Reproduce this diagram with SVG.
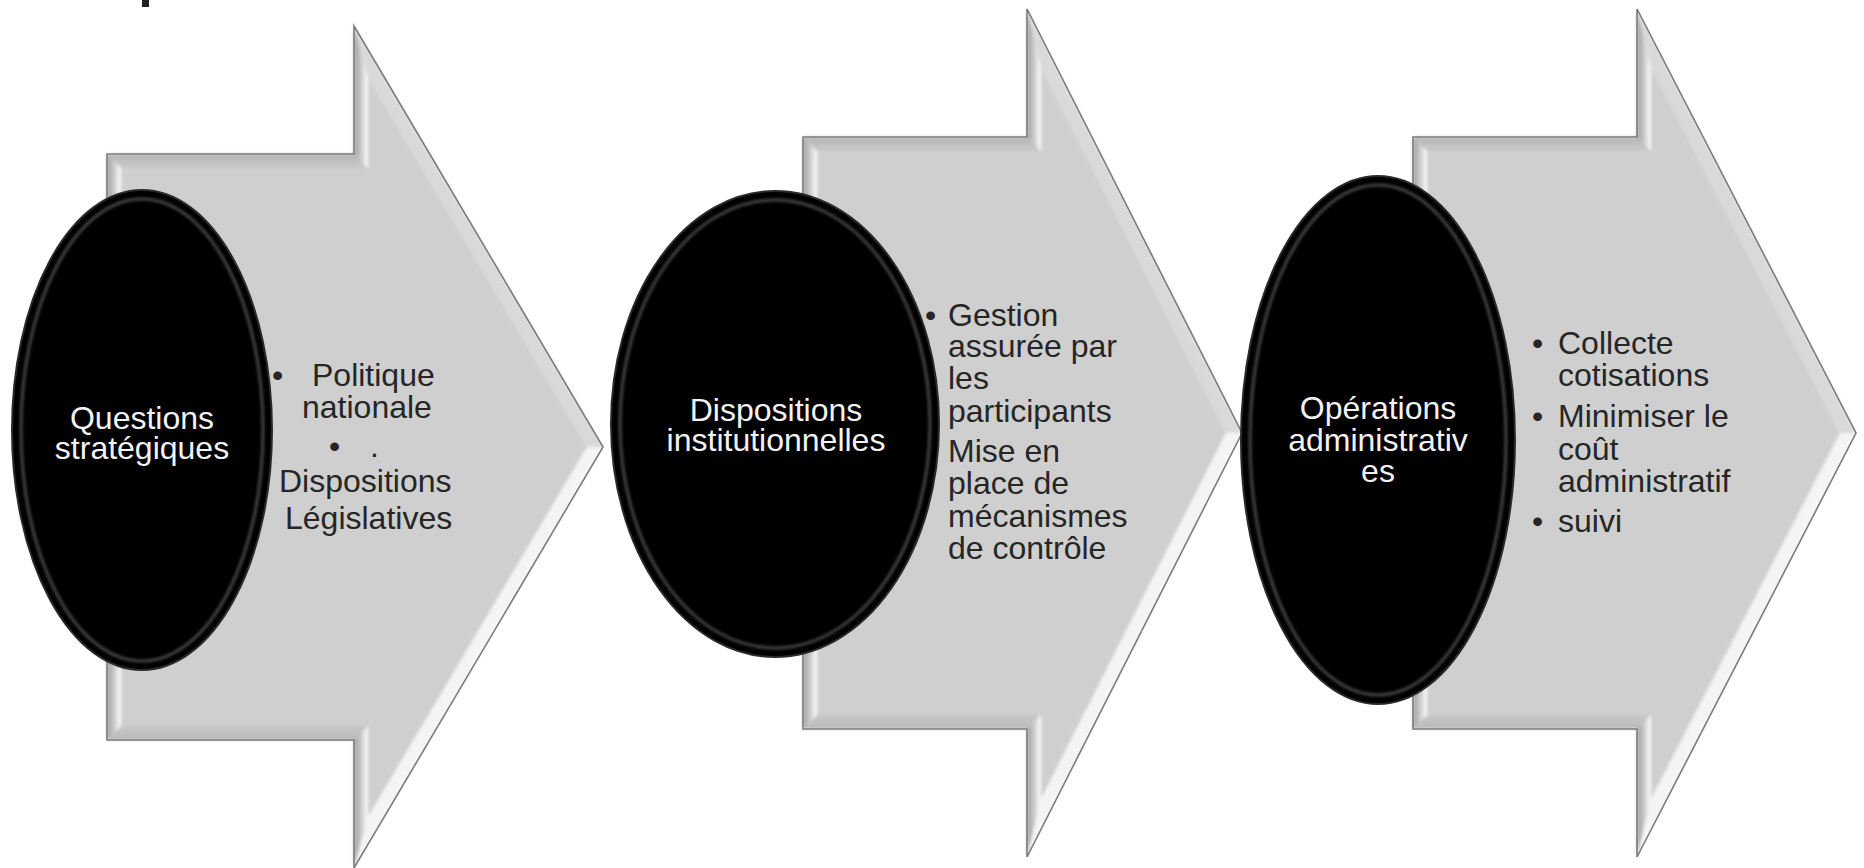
<svg xmlns="http://www.w3.org/2000/svg" width="1864" height="868" viewBox="0 0 1864 868">
  <defs>
    <linearGradient id="vband" x1="0" y1="0" x2="1" y2="0">
      <stop offset="0" stop-color="#9c9c9c"/>
      <stop offset="0.55" stop-color="#cfcfcf"/>
      <stop offset="1" stop-color="#ffffff"/>
    </linearGradient>
    <linearGradient id="hband" x1="0" y1="0" x2="0" y2="1">
      <stop offset="0" stop-color="#b4b4b4"/>
      <stop offset="1" stop-color="#cacaca"/>
    </linearGradient>
    <linearGradient id="bband" x1="0" y1="0" x2="0" y2="1">
      <stop offset="0" stop-color="#c8c8c8"/>
      <stop offset="1" stop-color="#b8b8b8"/>
    </linearGradient>
    <filter id="soft" x="-5%" y="-5%" width="110%" height="110%">
      <feGaussianBlur stdDeviation="1.6"/>
    </filter>
    <filter id="ringblur" x="-10%" y="-10%" width="120%" height="120%">
      <feGaussianBlur stdDeviation="1.8"/>
    </filter>
  </defs>
  <style>
    .inner { fill: #cfcfcf; }
    .vb { fill: url(#vband); }
    .tb { fill: url(#hband); }
    .bb { fill: url(#bband); }
    .ud { fill: #d9d9d9; }
    .ld { fill: #f4f4f4; }
    .edge { fill: none; stroke: #7c7c7c; stroke-width: 1.6; stroke-linejoin: miter; }
    .oval { fill: #000000; stroke: #2a2a2a; stroke-width: 2; }
    .ring { fill: none; stroke: #6e6e6e; stroke-width: 2.5; opacity: 0.75; }
    .wt { font-family: "Liberation Sans", Arial, sans-serif; font-size: 32px; fill: #f2f2f2; text-anchor: middle; }
    .bt { font-family: "Liberation Sans", Arial, sans-serif; font-size: 32px; fill: #262626; }
  </style>

  <rect x="142" y="0" width="7" height="7" fill="#222222"/>

  <g id="arrow1">
    <g filter="url(#soft)">
      <polygon class="vb" points="107,154 121,168 121,726 107,740"/>
      <polygon class="tb" points="107,154 354,154 368,168 121,168"/>
      <polygon class="vb" points="354,26 368,77 368,168 354,154"/>
      <polygon class="ud" points="354,26 603,447 587,447 368,77"/>
      <polygon class="ld" points="603,447 354,868 368,817 587,447"/>
      <polygon class="vb" points="354,740 368,726 368,817 354,868"/>
      <polygon class="bb" points="107,740 121,726 368,726 354,740"/>
      <polygon class="inner" points="121,168 368,168 368,77 587,447 368,817 368,726 121,726"/>
    </g>
    <polygon class="edge" points="107,154 354,154 354,26 603,447 354,868 354,740 107,740"/>
  </g>

  <g id="arrow2">
    <g filter="url(#soft)">
      <polygon class="vb" points="803,137 817,151 817,715 803,729"/>
      <polygon class="tb" points="803,137 1027,137 1041,151 817,151"/>
      <polygon class="vb" points="1027,9 1041,67 1041,151 1027,137"/>
      <polygon class="ud" points="1027,9 1242,433 1226,433 1041,67"/>
      <polygon class="ld" points="1242,433 1027,857 1041,799 1226,433"/>
      <polygon class="vb" points="1027,729 1041,715 1041,799 1027,857"/>
      <polygon class="bb" points="803,729 817,715 1041,715 1027,729"/>
      <polygon class="inner" points="817,151 1041,151 1041,67 1226,433 1041,799 1041,715 817,715"/>
    </g>
    <polygon class="edge" points="803,137 1027,137 1027,9 1242,433 1027,857 1027,729 803,729"/>
  </g>

  <g id="arrow3">
    <g filter="url(#soft)">
      <polygon class="vb" points="1413,137 1427,151 1427,715 1413,729"/>
      <polygon class="tb" points="1413,137 1637,137 1651,151 1427,151"/>
      <polygon class="vb" points="1637,9 1651,67 1651,151 1637,137"/>
      <polygon class="ud" points="1637,9 1856,433 1840,433 1651,67"/>
      <polygon class="ld" points="1856,433 1637,857 1651,799 1840,433"/>
      <polygon class="vb" points="1637,729 1651,715 1651,799 1637,857"/>
      <polygon class="bb" points="1413,729 1427,715 1651,715 1637,729"/>
      <polygon class="inner" points="1427,151 1651,151 1651,67 1840,433 1651,799 1651,715 1427,715"/>
    </g>
    <polygon class="edge" points="1413,137 1637,137 1637,9 1856,433 1637,857 1637,729 1413,729"/>
  </g>

  <g id="node1">
    <ellipse class="oval" cx="142" cy="430" rx="130" ry="240"/>
    <ellipse class="ring" cx="142" cy="430" rx="121" ry="231" filter="url(#ringblur)"/>
    <text class="wt" x="142" y="429">Questions</text>
    <text class="wt" x="142" y="459">stratégiques</text>
  </g>
  <g id="list1">
    <text class="bt" x="272" y="386">•</text>
    <text class="bt" x="312" y="386">Politique</text>
    <text class="bt" x="302" y="418">nationale</text>
    <text class="bt" x="329" y="457">•</text>
    <text class="bt" x="370" y="457">.</text>
    <text class="bt" x="279" y="492">Dispositions</text>
    <text class="bt" x="285" y="529">Législatives</text>
  </g>

  <g id="node2">
    <ellipse class="oval" cx="775" cy="424" rx="164" ry="233"/>
    <ellipse class="ring" cx="775" cy="424" rx="155" ry="224" filter="url(#ringblur)"/>
    <text class="wt" x="776" y="421">Dispositions</text>
    <text class="wt" x="776" y="451">institutionnelles</text>
  </g>
  <g id="list2">
    <text class="bt" x="925" y="326">•</text>
    <text class="bt" x="948" y="326">Gestion</text>
    <text class="bt" x="948" y="357">assurée par</text>
    <text class="bt" x="948" y="389">les</text>
    <text class="bt" x="948" y="422">participants</text>
    <text class="bt" x="948" y="462">Mise en</text>
    <text class="bt" x="948" y="494">place de</text>
    <text class="bt" x="948" y="527">mécanismes</text>
    <text class="bt" x="948" y="559">de contrôle</text>
  </g>

  <g id="node3">
    <ellipse class="oval" cx="1378" cy="440" rx="137" ry="264"/>
    <ellipse class="ring" cx="1378" cy="440" rx="128" ry="255" filter="url(#ringblur)"/>
    <text class="wt" x="1378" y="419">Opérations</text>
    <text class="wt" x="1378" y="451">administrativ</text>
    <text class="wt" x="1378" y="482">es</text>
  </g>
  <g id="list3">
    <text class="bt" x="1532" y="354">•</text>
    <text class="bt" x="1558" y="354">Collecte</text>
    <text class="bt" x="1558" y="386">cotisations</text>
    <text class="bt" x="1532" y="427">•</text>
    <text class="bt" x="1558" y="427">Minimiser le</text>
    <text class="bt" x="1558" y="460">coût</text>
    <text class="bt" x="1558" y="492">administratif</text>
    <text class="bt" x="1532" y="532">•</text>
    <text class="bt" x="1558" y="532">suivi</text>
  </g>
</svg>
